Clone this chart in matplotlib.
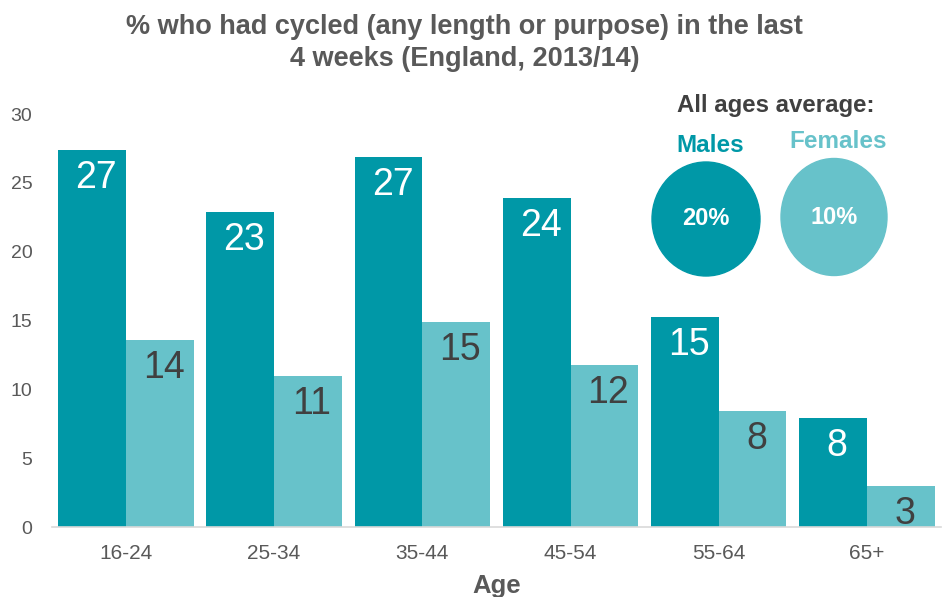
import numpy as np
import matplotlib
matplotlib.use("Agg")
import matplotlib.pyplot as plt
from matplotlib.patches import Ellipse

plt.rcParams['font.family'] = ['Liberation Sans', 'DejaVu Sans']

ages = ['16-24', '25-34', '35-44', '45-54', '55-64', '65+']
males = [27.4, 22.9, 26.9, 23.9, 15.25, 7.9]
females = [13.6, 11.0, 14.9, 11.8, 8.4, 3.0]
avg_labels = ['Males', 'Females']
avg_values = [20, 10]

c_male = '#0098A7'
c_female = '#67C2CA'
grey = '#595959'

fig = plt.figure(figsize=(9.42, 5.97), dpi=100)
ax = fig.add_axes([0.055, 0.117, 0.944, 0.692])

x = np.arange(len(ages))
w = 0.457
bm = ax.bar(x - w / 2, males, w, color=c_male)
bf = ax.bar(x + w / 2, females, w, color=c_female)

for bars, col in [(bm, 'white'), (bf, '#404040')]:
    for b in bars:
        h = b.get_height()
        ax.annotate(f"{h:.0f}", (b.get_x() + b.get_width() / 2, h),
                    xytext=(4, -28), textcoords='offset pixels',
                    ha='center', va='center', fontsize=27, color=col)

ax.set_xlim(-0.5, len(ages) - 0.5)
ax.set_ylim(0, 30)
ax.set_yticks(range(0, 31, 5))
ax.set_xticks(x)
ax.set_xticklabels(ages)
ax.tick_params(axis='both', length=0, labelsize=15, colors=grey)
ax.tick_params(axis='y', labelsize=14, pad=14)
ax.tick_params(axis='x', pad=12)
for s in ['top', 'right', 'left']:
    ax.spines[s].set_visible(False)
ax.spines['bottom'].set_color('#D9D9D9')
ax.spines['bottom'].set_linewidth(1.2)
ax.set_xlabel('Age', fontsize=18.5, fontweight='bold', color=grey, labelpad=8)

fig.text(0.493, 0.977, '% who had cycled (any length or purpose) in the last\n4 weeks (England, 2013/14)',
         ha='center', va='top', fontsize=19.5, fontweight='bold', color=grey, linespacing=1.3)

fig.text(0.823, 0.824, 'All ages average:', ha='center', va='center',
         fontsize=17.3, fontweight='bold', color='#404040')

centers = [(706, 219), (834, 217)]
sizes = [(108, 114), (106, 117)]
label_pos = [(710, 145), (838, 141)]
for lab, val, col, (cx, cy), (ew, eh), (lx, ly) in zip(avg_labels, avg_values, [c_male, c_female],
                                                        centers, sizes, label_pos):
    fig.add_artist(Ellipse((cx / 942, 1 - cy / 597), ew / 942, eh / 597,
                           transform=fig.transFigure, color=col))
    fig.text(cx / 942, 1 - cy / 597, f"{val}%", ha='center', va='center',
             fontsize=17, fontweight='bold', color='white')
    fig.text(lx / 942, 1 - ly / 597, lab, ha='center', va='center',
             fontsize=17.5, fontweight='bold', color=col)

fig.savefig('out.png', dpi=100)
